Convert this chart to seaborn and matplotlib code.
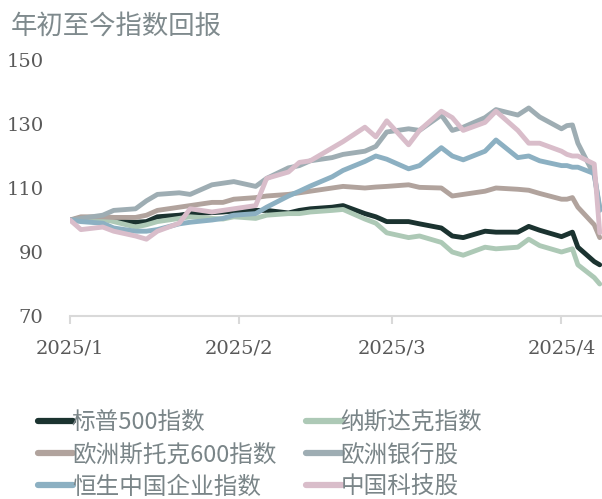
import pandas as pd
import matplotlib
matplotlib.use("Agg")
import matplotlib.pyplot as plt
import matplotlib.dates as mdates
from matplotlib.lines import Line2D
import seaborn as sns

# trading dates sampled from the chart
dates = ["2025-01-01", "2025-01-03", "2025-01-07", "2025-01-09", "2025-01-13", "2025-01-15",
         "2025-01-17", "2025-01-21", "2025-01-23", "2025-01-27", "2025-01-29", "2025-01-31",
         "2025-02-04", "2025-02-06", "2025-02-10", "2025-02-12", "2025-02-14", "2025-02-18",
         "2025-02-20", "2025-02-24", "2025-02-26", "2025-02-28", "2025-03-04", "2025-03-06",
         "2025-03-10", "2025-03-12", "2025-03-14", "2025-03-18", "2025-03-20", "2025-03-24",
         "2025-03-26", "2025-03-28", "2025-04-01", "2025-04-02", "2025-04-03", "2025-04-04",
         "2025-04-07", "2025-04-08"]

spx = [100, 100.5, 100.3, 99.8, 99.3, 99.5, 101, 101.5, 102, 102.3, 102.5, 102.8,
       103, 103, 102.2, 103, 103.5, 104, 104.5, 102, 101, 99.5, 99.5, 98.8,
       97.5, 95, 94.5, 96.5, 96.2, 96.2, 98, 96.8, 94.8, 95.5, 96.2, 91.5, 87, 86]
ndx = [100, 100, 100.3, 99.5, 97.8, 98.5, 99.5, 100.5, 101, 100.5, 100.3, 101,
       100.5, 101.5, 102, 102, 102.5, 103, 103.3, 100.3, 99, 96, 94.5, 95,
       93, 90, 89, 91.5, 91, 91.5, 94, 92, 90, 90.5, 91, 86, 82, 80]
stoxx = [100, 101, 101, 100.8, 100.8, 101.5, 103, 104, 104.5, 105.5, 105.5, 106.5,
         107, 107.5, 108, 108.5, 109, 110, 110.5, 110, 110.3, 110.5, 111, 110.2,
         110, 107.5, 108, 109, 110, 109.6, 109.3, 108.3, 106.5, 106.5, 107, 104, 98.5, 94.5]
eubanks = [100, 100.5, 101.5, 103, 103.5, 106, 108, 108.5, 108, 111, 111.5, 112,
           110.5, 113, 116.3, 117, 118.5, 119.5, 120.5, 121.5, 123, 127.5, 128.5, 128,
           132.8, 128, 129, 132, 134.5, 132.8, 135, 132.2, 128.5, 129.5, 129.7, 124, 114, 104]
hscei = [100, 99.5, 99, 97.5, 96.5, 96.5, 97, 98.8, 99.3, 100, 100.5, 101.5,
         102, 104, 107.5, 109, 110.6, 113.5, 115.5, 118.3, 120, 119, 116, 117,
         122.6, 120, 118.8, 121.5, 125, 119.5, 120, 118.5, 117, 117, 116.5, 116.5, 114.5, 103]
chtech = [100, 97, 97.8, 96.5, 95, 94, 96.5, 99, 103.5, 102.5, 103, 103.5,
          104.5, 113, 115, 118, 118.5, 122.5, 124.5, 129, 126, 131, 123.5, 128,
          134, 132, 128, 130.5, 134, 128, 124, 124, 121.5, 120.5, 120, 120, 117.5, 96]

names = ["标普500指数", "纳斯达克指数", "欧洲斯托克600指数", "欧洲银行股", "恒生中国企业指数", "中国科技股"]
colors = ["#1b3330", "#adc9b6", "#b1a39d", "#9eadb3", "#8cb0c2", "#d9bdca"]
series = [spx, ndx, stoxx, eubanks, hscei, chtech]

df = pd.concat([pd.DataFrame({"date": pd.to_datetime(dates), "value": v, "series": n})
                for n, v in zip(names, series)], ignore_index=True)

sns.set_theme(style="white")
plt.rcParams["font.family"] = ["Noto Sans CJK SC", "DejaVu Sans"]

fig = plt.figure(figsize=(6.02, 4.99), dpi=100)
ax = fig.add_axes([70 / 602, 1 - 316 / 499, 532 / 602, 256 / 499])

sns.lineplot(data=df, x="date", y="value", hue="series", hue_order=names,
             palette=colors, linewidth=3.5, legend=False, ax=ax)

ax.set_ylim(70, 150)
ax.set_yticks([70, 90, 110, 130, 150])
ax.set_xlim(pd.Timestamp("2025-01-01"), pd.Timestamp("2025-04-08 10:00"))
ax.xaxis.set_major_locator(mdates.MonthLocator())
ax.xaxis.set_major_formatter(plt.FuncFormatter(
    lambda v, p: f"{mdates.num2date(v).year}/{mdates.num2date(v).month}"))
ax.set_xlabel("")
ax.set_ylabel("")

for s in ["top", "right", "left"]:
    ax.spines[s].set_visible(False)
ax.spines["bottom"].set_color("#d9d9d9")
ax.spines["bottom"].set_linewidth(1.5)

ax.tick_params(axis="x", bottom=True, length=6, width=1.5, color="#d9d9d9",
               pad=11, labelsize=14, labelcolor="#595959")
ax.tick_params(axis="y", length=0, pad=19, labelsize=14, labelcolor="#595959")
for lab in ax.get_xticklabels() + ax.get_yticklabels():
    lab.set_family("DejaVu Serif")

fig.text(11 / 602, 1 - 26 / 499, "年初至今指数回报", fontsize=19, color="#7f8a8d",
         ha="left", va="center")

# legend in row order: column-major for ncol=2
order = [0, 2, 4, 1, 3, 5]
handles = [Line2D([], [], color=colors[i], linewidth=4.5) for i in order]
labels = [names[i] for i in order]
fig.legend(handles, labels, ncol=2, loc="upper left", bbox_to_anchor=(26 / 602, 1 - 399 / 499),
           frameon=False, fontsize=17, labelcolor="#7a8588", handlelength=1.5,
           handletextpad=-0.06, columnspacing=1.27, labelspacing=0.4, borderpad=0)

fig.savefig("out.png", dpi=100)
